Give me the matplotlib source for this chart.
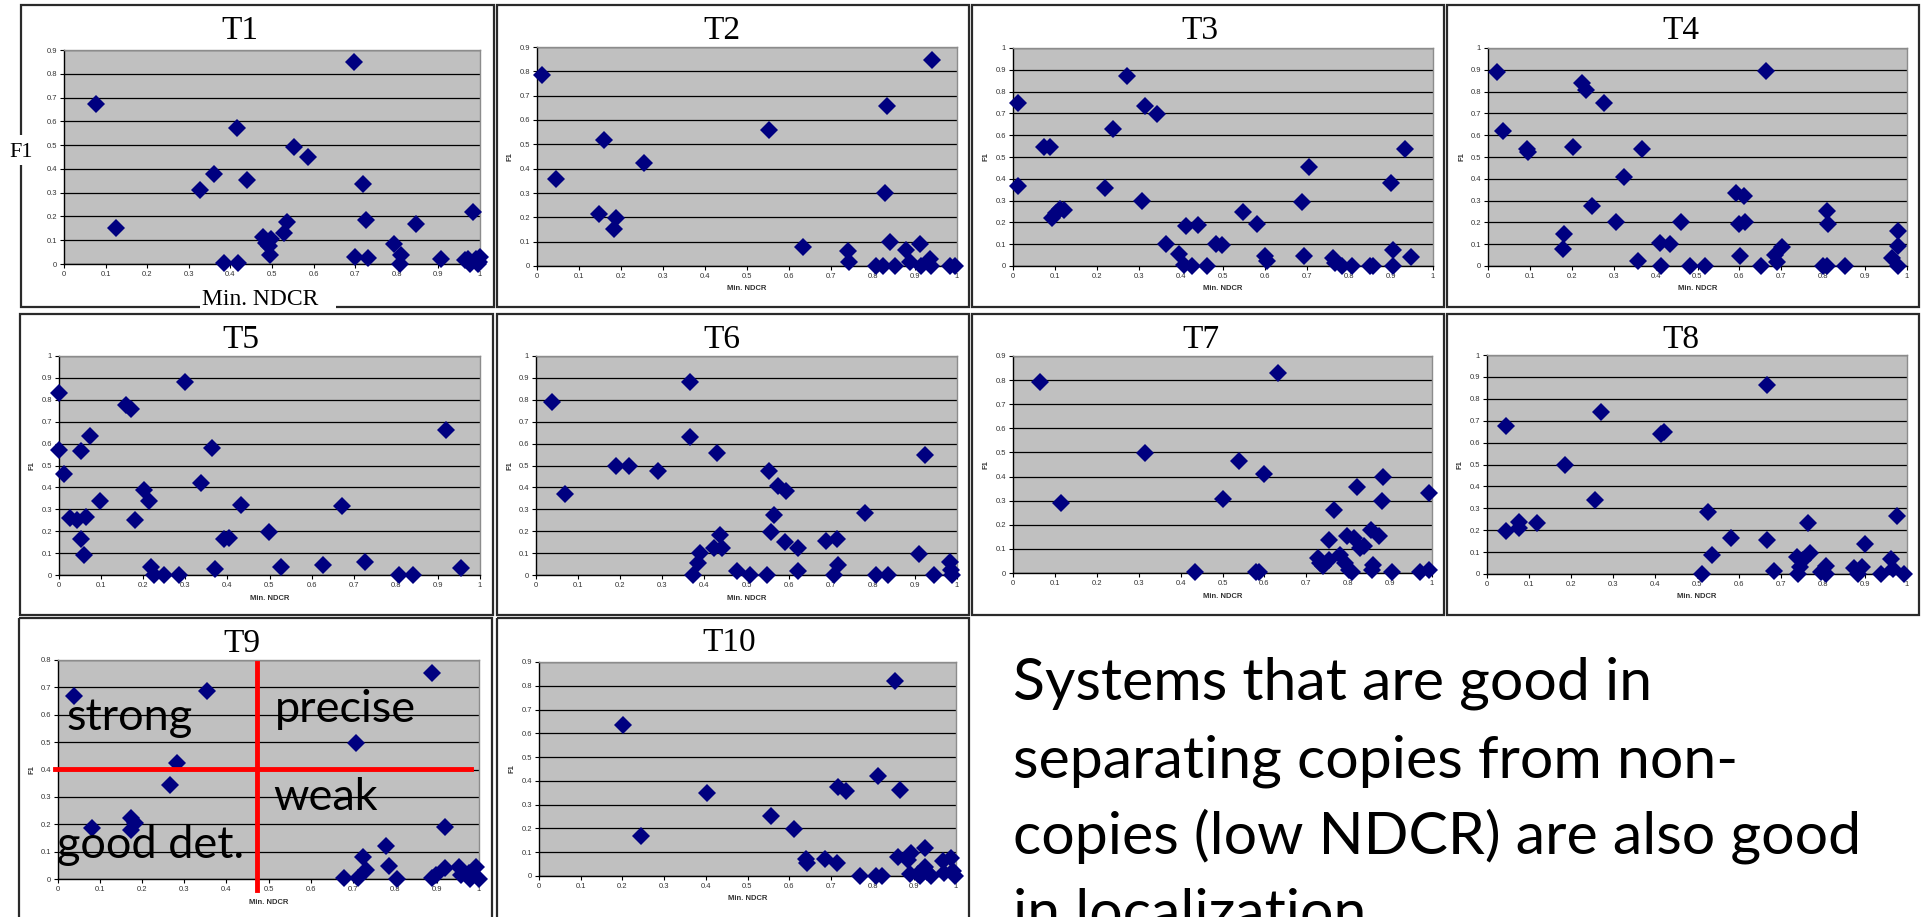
import numpy as np
import matplotlib
matplotlib.use("Agg")
import matplotlib.pyplot as plt
from matplotlib.patches import Rectangle

W, H = 1929, 917

# ---- data (Min. NDCR vs F1) ----
t1_x = [0.078, 0.125, 0.327, 0.360, 0.384, 0.416, 0.419, 0.439, 0.479, 0.485, 0.492, 0.497, 0.494, 0.529,
        0.536, 0.553, 0.587, 0.697, 0.699, 0.719, 0.725, 0.730, 0.793, 0.811, 0.807, 0.847, 0.907, 0.982,
        0.963, 0.970, 0.975, 0.990, 0.995, 1.0, 0.998]
t1_y = [0.672, 0.153, 0.310, 0.379, 0.003, 0.571, 0.003, 0.352, 0.112, 0.090, 0.075, 0.105, 0.038, 0.132,
        0.178, 0.492, 0.450, 0.848, 0.031, 0.335, 0.185, 0.024, 0.083, 0.038, 0.0, 0.168, 0.022, 0.220,
        0.015, 0.020, 0.0, 0.020, 0.0, 0.030, 0.010]

t2_x = [0.013, 0.045, 0.159, 0.147, 0.187, 0.184, 0.254, 0.552, 0.633, 0.740, 0.742, 0.807, 0.823, 0.833,
        0.829, 0.841, 0.853, 0.879, 0.887, 0.913, 0.914, 0.935, 0.938, 0.940, 0.983, 0.996]
t2_y = [0.786, 0.358, 0.519, 0.214, 0.196, 0.151, 0.425, 0.557, 0.080, 0.063, 0.018, 0.0, 0.0, 0.659,
        0.299, 0.097, 0.0, 0.066, 0.018, 0.091, 0.0, 0.027, 0.0, 0.848, 0.0, 0.0]

t3_x = [0.012, 0.012, 0.073, 0.087, 0.093, 0.103, 0.113, 0.121, 0.219, 0.237, 0.272, 0.306, 0.314, 0.342,
        0.364, 0.395, 0.408, 0.413, 0.425, 0.441, 0.463, 0.483, 0.497, 0.548, 0.580, 0.599, 0.604, 0.688,
        0.694, 0.705, 0.762, 0.766, 0.783, 0.807, 0.851, 0.856, 0.901, 0.904, 0.904, 0.934, 0.948]
t3_y = [0.747, 0.368, 0.544, 0.548, 0.219, 0.242, 0.260, 0.257, 0.360, 0.629, 0.870, 0.296, 0.732, 0.697,
        0.101, 0.055, 0.005, 0.184, 0.002, 0.188, 0.002, 0.101, 0.096, 0.250, 0.193, 0.046, 0.023, 0.292,
        0.046, 0.456, 0.035, 0.012, 0.002, 0.002, 0.002, 0.002, 0.383, 0.074, 0.002, 0.538, 0.040]

t4_x = [0.021, 0.036, 0.093, 0.095, 0.182, 0.179, 0.204, 0.224, 0.235, 0.276, 0.248, 0.305, 0.324, 0.358,
        0.368, 0.410, 0.413, 0.434, 0.461, 0.483, 0.517, 0.592, 0.612, 0.600, 0.613, 0.602, 0.652, 0.664,
        0.684, 0.690, 0.702, 0.800, 0.809, 0.809, 0.811, 0.851, 0.964, 0.979, 0.978, 0.978]
t4_y = [0.888, 0.617, 0.536, 0.525, 0.145, 0.077, 0.545, 0.839, 0.809, 0.747, 0.273, 0.204, 0.410, 0.025,
        0.538, 0.107, 0.002, 0.100, 0.204, 0.002, 0.002, 0.337, 0.322, 0.191, 0.201, 0.047, 0.002, 0.893,
        0.051, 0.017, 0.089, 0.002, 0.002, 0.253, 0.193, 0.002, 0.035, 0.002, 0.162, 0.093]

t5_x = [0.0, 0.0, 0.012, 0.025, 0.043, 0.063, 0.053, 0.073, 0.053, 0.059, 0.098, 0.160, 0.170, 0.180,
        0.203, 0.213, 0.219, 0.225, 0.249, 0.285, 0.300, 0.338, 0.363, 0.370, 0.391, 0.403, 0.432, 0.498,
        0.527, 0.627, 0.672, 0.728, 0.808, 0.841, 0.920, 0.956]
t5_y = [0.833, 0.571, 0.462, 0.260, 0.252, 0.267, 0.564, 0.635, 0.164, 0.093, 0.340, 0.777, 0.757, 0.249,
        0.389, 0.336, 0.035, 0.002, 0.002, 0.002, 0.883, 0.419, 0.582, 0.029, 0.164, 0.169, 0.321, 0.196,
        0.035, 0.044, 0.316, 0.059, 0.002, 0.002, 0.663, 0.032]

t6_x = [0.038, 0.068, 0.190, 0.220, 0.289, 0.365, 0.365, 0.374, 0.385, 0.390, 0.430, 0.422, 0.438, 0.442,
        0.477, 0.508, 0.549, 0.554, 0.559, 0.565, 0.576, 0.594, 0.592, 0.622, 0.622, 0.690, 0.709, 0.715,
        0.718, 0.781, 0.808, 0.835, 0.909, 0.923, 0.945, 0.984, 0.986, 0.987]
t6_y = [0.792, 0.369, 0.498, 0.498, 0.477, 0.883, 0.628, 0.002, 0.055, 0.100, 0.556, 0.123, 0.184, 0.123,
        0.020, 0.002, 0.002, 0.476, 0.196, 0.272, 0.407, 0.384, 0.149, 0.123, 0.020, 0.153, 0.002, 0.164,
        0.047, 0.283, 0.002, 0.002, 0.097, 0.546, 0.002, 0.059, 0.021, 0.002]

t7_x = [0.065, 0.114, 0.316, 0.434, 0.500, 0.539, 0.579, 0.588, 0.600, 0.633, 0.727, 0.733, 0.739, 0.753,
        0.755, 0.767, 0.781, 0.793, 0.797, 0.801, 0.809, 0.813, 0.822, 0.827, 0.837, 0.855, 0.858, 0.857,
        0.873, 0.880, 0.883, 0.904, 0.972, 0.992, 0.992]
t7_y = [0.794, 0.290, 0.497, 0.004, 0.308, 0.465, 0.004, 0.004, 0.411, 0.828, 0.062, 0.041, 0.028, 0.055,
        0.138, 0.262, 0.076, 0.041, 0.152, 0.014, 0.003, 0.145, 0.356, 0.104, 0.110, 0.177, 0.035, 0.014,
        0.155, 0.300, 0.400, 0.003, 0.003, 0.331, 0.011]

t8_x = [0.045, 0.045, 0.075, 0.077, 0.120, 0.185, 0.258, 0.271, 0.414, 0.422, 0.511, 0.526, 0.536, 0.582,
        0.667, 0.667, 0.684, 0.737, 0.741, 0.745, 0.753, 0.765, 0.769, 0.796, 0.806, 0.807, 0.874, 0.884,
        0.894, 0.899, 0.937, 0.961, 0.967, 0.976, 0.993]
t8_y = [0.677, 0.198, 0.239, 0.209, 0.234, 0.498, 0.338, 0.741, 0.638, 0.647, 0.0, 0.285, 0.087, 0.163,
        0.863, 0.155, 0.015, 0.079, 0.0, 0.033, 0.064, 0.234, 0.094, 0.011, 0.038, 0.0, 0.026, 0.0,
        0.030, 0.137, 0.0, 0.067, 0.021, 0.266, 0.0]

t9_x = [0.037, 0.081, 0.174, 0.173, 0.184, 0.266, 0.283, 0.355, 0.679, 0.709, 0.713, 0.725, 0.731, 0.780,
        0.786, 0.806, 0.888, 0.889, 0.899, 0.919, 0.919, 0.953, 0.958, 0.976, 0.994, 1.0, 0.979]
t9_y = [0.668, 0.185, 0.222, 0.179, 0.203, 0.342, 0.423, 0.688, 0.002, 0.496, 0.002, 0.079, 0.033, 0.121,
        0.049, 0.0, 0.754, 0.002, 0.015, 0.191, 0.041, 0.045, 0.015, 0.023, 0.043, 0.0, 0.0]

t10_x = [0.201, 0.245, 0.404, 0.556, 0.612, 0.641, 0.642, 0.685, 0.714, 0.716, 0.737, 0.770, 0.808, 0.813,
         0.822, 0.853, 0.860, 0.866, 0.886, 0.892, 0.889, 0.909, 0.914, 0.925, 0.926, 0.930, 0.940, 0.969,
         0.972, 0.989, 0.993, 0.997]
t10_y = [0.636, 0.168, 0.348, 0.253, 0.197, 0.070, 0.053, 0.072, 0.053, 0.373, 0.358, 0.001, 0.001, 0.421,
         0.001, 0.819, 0.081, 0.362, 0.067, 0.095, 0.008, 0.008, 0.0, 0.117, 0.039, 0.018, 0.0, 0.065,
         0.014, 0.074, 0.022, 0.0]

titles = ["T1", "T2", "T3", "T4", "T5", "T6", "T7", "T8", "T9", "T10"]
series = [(t1_x, t1_y), (t2_x, t2_y), (t3_x, t3_y), (t4_x, t4_y), (t5_x, t5_y),
          (t6_x, t6_y), (t7_x, t7_y), (t8_x, t8_y), (t9_x, t9_y), (t10_x, t10_y)]
y_max = [0.9, 0.9, 1.0, 1.0, 1.0, 1.0, 0.9, 1.0, 0.8, 0.9]

quadrant_labels = ["strong", "precise", "weak", "good det."]
summary = ["Systems that are good in",
           "separating copies from non-",
           "copies (low NDCR) are also good",
           "in localization"]

# ---- layout in reference pixels ----
# plot area: left, top, right, bottom
plot_px = [(64, 50, 480, 264), (537, 47, 957, 266), (1013, 48, 1433, 266), (1488, 48, 1907, 266),
           (59, 356, 480, 575), (536, 356, 957, 575), (1013, 356, 1432, 573), (1487, 355, 1907, 574),
           (58, 660, 479, 879), (539, 662, 956, 876)]
# panel frame: left, top, right, bottom
box_px = [(21, 5, 494, 307), (497, 5, 969, 307), (972, 5, 1444, 307), (1447, 5, 1919, 307),
          (20, 314, 493, 615), (497, 314, 969, 615), (972, 314, 1444, 615), (1447, 314, 1919, 615),
          (19, 618, 492, 930), (497, 618, 969, 930)]
title_px = [(240, 39), (722, 39), (1200, 39), (1681, 39), (241, 348), (722, 348), (1201, 348),
            (1681, 348), (242, 652), (729, 651)]

fig = plt.figure(figsize=(W / 100, H / 100), dpi=100)

bg = fig.add_axes([0, 0, 1, 1])
bg.set_xlim(0, W)
bg.set_ylim(H, 0)
bg.axis("off")

for (l, t, r, b) in box_px:
    bg.add_patch(Rectangle((l, t), r - l, b - t, fill=False, edgecolor="#2a2a2a", lw=1.6, clip_on=False))

for name, (tx, ty) in zip(titles, title_px):
    bg.text(tx, ty, name, family="Liberation Serif", fontsize=24, ha="center", va="baseline")

# T1 has the big serif axis labels sitting on the frame
bg.add_patch(Rectangle((8, 135), 28, 30, facecolor="white", edgecolor="none", zorder=3))
bg.text(21, 157, "F1", family="Liberation Serif", fontsize=16, ha="center", va="baseline", zorder=4)
bg.add_patch(Rectangle((200, 284), 136, 28, facecolor="white", edgecolor="none", zorder=3))
bg.text(260, 305, "Min. NDCR", family="Liberation Serif", fontsize=17, ha="center", va="baseline", zorder=4)

# summary text on the right
for i, line in enumerate(summary):
    bg.text(1013, 700 + i * 77, line, family="Lato", fontsize=42.5, ha="left", va="baseline")


def px_rect(l, t, r, b):
    return [l / W, 1 - b / H, (r - l) / W, (b - t) / H]


def tick_fmt(v):
    return "0" if v == 0 else ("1" if v == 1 else f"{v:.1f}")


axes = []
for i, (name, (xs, ys)) in enumerate(zip(titles, series)):
    ax = fig.add_axes(px_rect(*plot_px[i]))
    ymax = y_max[i]
    ax.set_facecolor("#c0c0c0")
    ax.set_xlim(0, 1)
    ax.set_ylim(0, ymax)
    xt = np.round(np.arange(0, 1.001, 0.1), 1)
    yt = np.round(np.arange(0, ymax + 0.001, 0.1), 1)
    ax.set_xticks(xt)
    ax.set_xticklabels([tick_fmt(v) for v in xt])
    ax.set_yticks(yt)
    ax.set_yticklabels([tick_fmt(v) for v in yt])
    ax.yaxis.grid(True, color="black", lw=0.9)
    ax.set_axisbelow(True)
    for s in ["top", "right"]:
        ax.spines[s].set_color("#8c8c8c")
        ax.spines[s].set_linewidth(1.0)
    for s in ["left", "bottom"]:
        ax.spines[s].set_color("black")
        ax.spines[s].set_linewidth(1.0)
    ax.tick_params(direction="out", length=3, width=0.8, labelsize=5.5, labelcolor="#333333", pad=2)
    for lab in ax.get_xticklabels() + ax.get_yticklabels():
        lab.set_family("Liberation Sans")
    if i > 0:
        ax.set_xlabel("Min. NDCR", family="Liberation Sans", fontsize=5.5, fontweight="bold",
                      color="#333333", labelpad=4)
        ax.set_ylabel("F1", family="Liberation Sans", fontsize=5.5, fontweight="bold",
                      color="#333333", labelpad=4)
    ax.plot(xs, ys, linestyle="none", marker="D", ms=9, color="#000080", mec="#000080",
            mew=0, clip_on=False, zorder=3)
    axes.append(ax)

# quadrant annotation in T9
ax9 = axes[8]
ax9.plot([0.473, 0.473], [-0.04, 0.788], color="#ff0000", lw=3.5, clip_on=False, zorder=4)
ax9.plot([-0.006, 0.982], [0.402, 0.402], color="#ff0000", lw=3.5, clip_on=False, zorder=4)
q_pos = [(0.019, 0.544), (0.515, 0.573), (0.511, 0.252), (-0.002, 0.077)]
for lab, (qx, qy) in zip(quadrant_labels, q_pos):
    ax9.text(qx, qy, lab, family="Lato", fontsize=32.5, ha="left", va="baseline", zorder=5, clip_on=False)

fig.savefig("out.png", dpi=100)
